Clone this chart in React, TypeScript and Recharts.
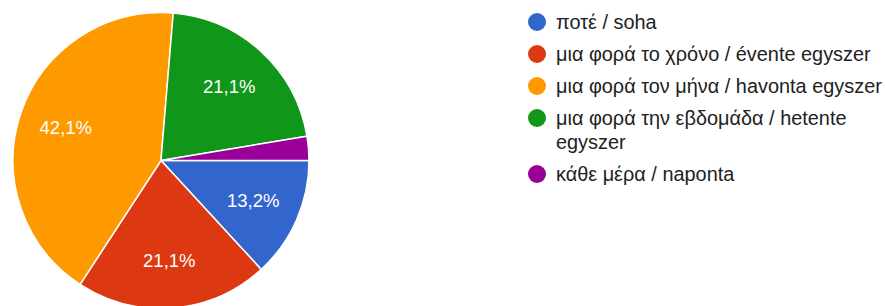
import React from 'react';
import { PieChart, Pie, Cell, Legend } from 'recharts';

document.body.style.margin = '0';

const categories = [
  'ποτέ / soha',
  'μια φορά το χρόνο / évente egyszer',
  'μια φορά τον μήνα / havonta egyszer',
  'μια φορά την εβδομάδα / hetente egyszer',
  'κάθε μέρα / naponta',
];
const responses = [5, 8, 16, 8, 1];
const colors = ['#3366cc', '#dc3912', '#ff9900', '#109618', '#990099'];

const data = categories.map((name, i) => ({ name, value: responses[i] }));

const RAD = Math.PI / 180;

// percentage labels inside slices, small slices stay unlabeled
const renderLabel = (props: any) => {
  const { cx, cy, midAngle, outerRadius, percent } = props;
  if (percent < 0.05) return null;
  const r = outerRadius * 0.68;
  const x = cx + r * Math.cos(-midAngle * RAD);
  const y = cy + r * Math.sin(-midAngle * RAD);
  const text = (percent * 100).toFixed(1).replace('.', ',') + '%';
  return (
    <text
      x={x}
      y={y}
      fill="#ffffff"
      fontSize={18.5}
      fontFamily="'Liberation Sans', Arial, sans-serif"
      textAnchor="middle"
      dominantBaseline="central"
    >
      {text}
    </text>
  );
};

const LegendContent = () => (
  <div style={{ fontFamily: "'Liberation Sans', Arial, sans-serif", fontSize: 19.9, color: '#222222' }}>
    {data.map((d, i) => (
      <div key={d.name} style={{ display: 'flex', alignItems: 'flex-start', marginBottom: 8, lineHeight: '24px' }}>
        <span
          style={{
            width: 18,
            height: 18,
            borderRadius: '50%',
            background: colors[i],
            flex: '0 0 18px',
            marginTop: 3,
            marginRight: 10,
          }}
        />
        <span>{d.name}</span>
      </div>
    ))}
  </div>
);

const App: React.FC = () => {
  return (
    <div style={{ width: 886, height: 306, background: '#ffffff' }}>
      <PieChart width={886} height={306} margin={{ top: 0, right: 0, bottom: 0, left: 0 }}>
        <Pie
          data={data}
          dataKey="value"
          nameKey="name"
          cx={161}
          cy={160.5}
          outerRadius={148}
          startAngle={0}
          endAngle={-360}
          stroke="#ffffff"
          strokeWidth={1.5}
          label={renderLabel}
          labelLine={false}
          isAnimationActive={false}
        >
          {data.map((d, i) => (
            <Cell key={d.name} fill={colors[i]} />
          ))}
        </Pie>
        <Legend
          layout="vertical"
          content={<LegendContent />}
          wrapperStyle={{ left: 528, top: 10, width: 358 }}
        />
      </PieChart>
    </div>
  );
};

export default App;
